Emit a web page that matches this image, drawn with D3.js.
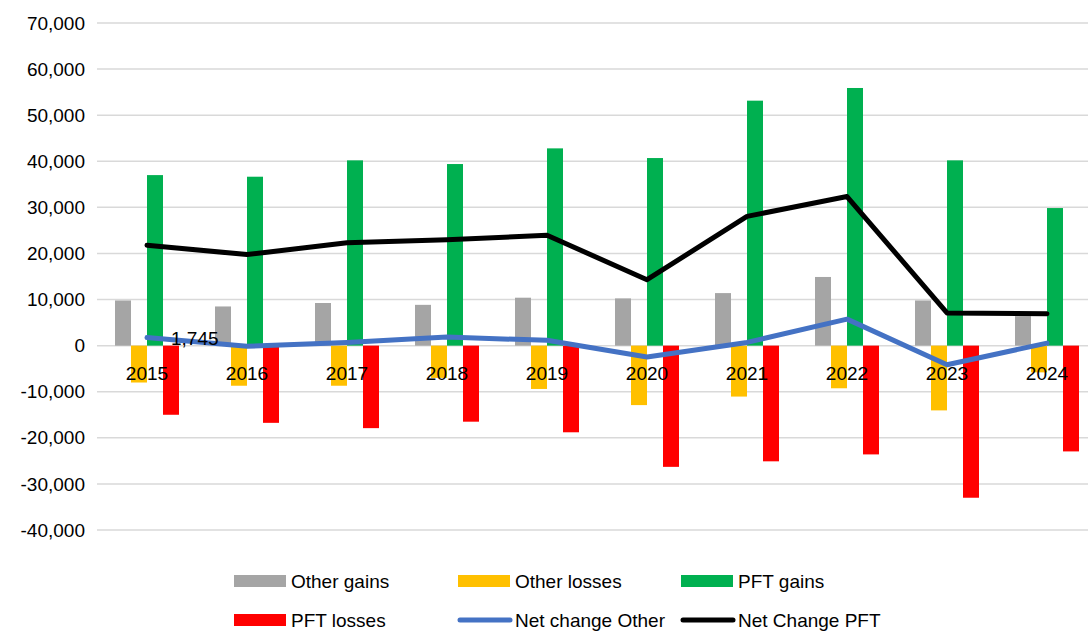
<!DOCTYPE html>
<html>
<head>
<meta charset="utf-8">
<script src="https://cdn.jsdelivr.net/npm/d3@7/dist/d3.min.js"></script>
<style>
  html, body { margin: 0; padding: 0; background: #fff; overflow: hidden; }
  svg { display: block; font-family: "Liberation Sans", Arial, sans-serif; }
</style>
</head>
<body>
<svg id="chart" width="1088" height="631"></svg>
<script>
const years = ["2015","2016","2017","2018","2019","2020","2021","2022","2023","2024"];
const otherGains  = [9800, 8500, 9250, 8850, 10400, 10250, 11400, 14900, 9800, 6400];
const otherLosses = [-8000, -8700, -8700, -7000, -9400, -12900, -11050, -9250, -14050, -5800];
const pftGains    = [37000, 36650, 40200, 39400, 42800, 40700, 53150, 55900, 40200, 29850];
const pftLosses   = [-15000, -16750, -17900, -16500, -18800, -26300, -25100, -23600, -33000, -22950];
const netOther    = [1745, -150, 700, 1850, 1150, -2450, 700, 5750, -4150, 550];
const netPFT      = [21800, 19750, 22300, 22950, 23950, 14300, 28050, 32350, 7100, 6900];
const yTicks      = [-40000, -30000, -20000, -10000, 0, 10000, 20000, 30000, 40000, 50000, 60000, 70000];

const barSeries = [
  { name: "Other gains",  values: otherGains,  color: "#A5A5A5" },
  { name: "Other losses", values: otherLosses, color: "#FFC000" },
  { name: "PFT gains",    values: pftGains,    color: "#00B050" },
  { name: "PFT losses",   values: pftLosses,   color: "#FF0000" }
];
const lineSeries = [
  { name: "Net change Other", values: netOther, color: "#4472C4" },
  { name: "Net Change PFT",   values: netPFT,   color: "#000000" }
];

const svg = d3.select("#chart");
const fontSize = 19;

const x0 = d3.scaleBand().domain(years).range([97, 1097]).paddingInner(0.36).paddingOuter(0.18);
const x1 = d3.scaleBand().domain(barSeries.map(s => s.name)).range([0, x0.bandwidth()]);
const y = d3.scaleLinear().domain([-40000, 70000]).range([530, 23]);
const fmt = v => d3.format(",")(v).replace("\u2212", "-");

// gridlines
svg.append("g").selectAll("line").data(yTicks).join("line")
  .attr("x1", 97).attr("x2", 1088)
  .attr("y1", d => y(d)).attr("y2", d => y(d))
  .attr("stroke", "#D9D9D9").attr("stroke-width", 1.5);

// y axis labels
const yAxis = d3.axisLeft(y).tickValues(yTicks).tickFormat(fmt).tickSize(0).tickPadding(0);
const ya = svg.append("g").attr("transform", "translate(85,0)").call(yAxis);
ya.select(".domain").remove();
ya.selectAll("text").attr("font-size", fontSize).attr("fill", "#000")
  .attr("font-family", "Liberation Sans, Arial, sans-serif");

// bars
const groups = svg.append("g").selectAll("g").data(barSeries).join("g").attr("fill", s => s.color);
groups.selectAll("rect").data(s => s.values.map((v, i) => ({ s, v, year: years[i] }))).join("rect")
  .attr("x", d => x0(d.year) + x1(d.s.name))
  .attr("width", x1.bandwidth())
  .attr("y", d => y(Math.max(0, d.v)))
  .attr("height", d => Math.abs(y(d.v) - y(0)));

// category labels (next to axis, inside plot)
const xAxis = d3.axisBottom(x0).tickSize(0).tickPadding(0);
const xa = svg.append("g").attr("transform", `translate(0,${y(0)})`).call(xAxis);
xa.select(".domain").remove();
xa.selectAll("text").attr("font-size", fontSize).attr("fill", "#000")
  .attr("font-family", "Liberation Sans, Arial, sans-serif")
  .attr("dy", "1.81em");

// lines
const cx = yr => x0(yr) + x0.bandwidth() / 2;
lineSeries.forEach(s => {
  const line = d3.line().x((d, i) => cx(years[i])).y(d => y(d));
  svg.append("path").datum(s.values)
    .attr("d", line).attr("fill", "none")
    .attr("stroke", s.color).attr("stroke-width", 5)
    .attr("stroke-linejoin", "round").attr("stroke-linecap", "round");
});

// data label
svg.append("text")
  .attr("x", cx(years[0]) + 24).attr("y", y(netOther[0]) + 7)
  .attr("font-size", fontSize).attr("fill", "#000")
  .text(fmt(netOther[0]));

// legend
const legendItems = [
  { s: barSeries[0], type: "rect", x: 234, y: 581 },
  { s: barSeries[1], type: "rect", x: 458, y: 581 },
  { s: barSeries[2], type: "rect", x: 681, y: 581 },
  { s: barSeries[3], type: "rect", x: 234, y: 620 },
  { s: lineSeries[0], type: "line", x: 458, y: 620 },
  { s: lineSeries[1], type: "line", x: 681, y: 620 }
];
const lg = svg.append("g").selectAll("g").data(legendItems).join("g")
  .attr("transform", d => `translate(${d.x},${d.y})`);
lg.filter(d => d.type === "rect").append("rect")
  .attr("x", 0).attr("y", -6).attr("width", 52).attr("height", 12)
  .attr("fill", d => d.s.color);
lg.filter(d => d.type === "line").append("line")
  .attr("x1", 2).attr("x2", 52).attr("y1", 0).attr("y2", 0)
  .attr("stroke", d => d.s.color).attr("stroke-width", 5).attr("stroke-linecap", "round");
lg.append("text").attr("x", 57).attr("y", 0).attr("dy", "0.35em")
  .attr("font-size", fontSize).attr("fill", "#000").text(d => d.s.name);
</script>
</body>
</html>
